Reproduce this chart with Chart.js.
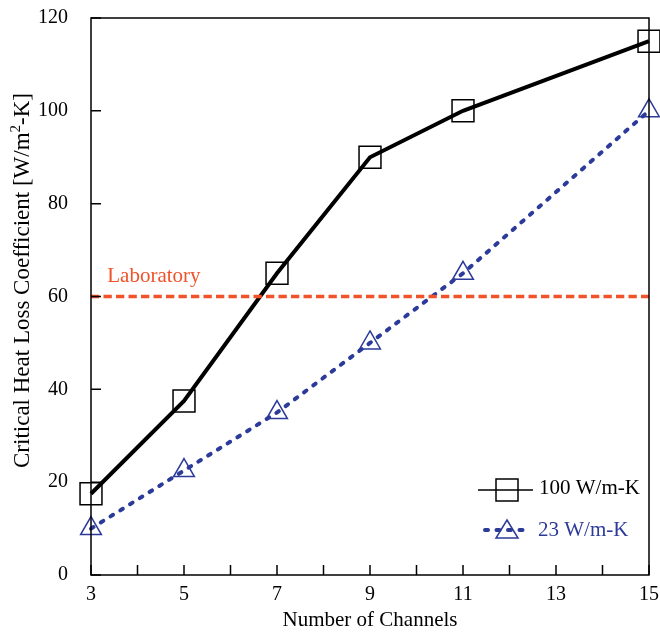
<!DOCTYPE html>
<html>
<head>
<meta charset="utf-8">
<script src="https://cdn.jsdelivr.net/npm/chart.js@4.4.1/dist/chart.umd.min.js"></script>
<style>
  html, body { margin: 0; padding: 0; background: #fff; }
  canvas { display: block; }
</style>
</head>
<body>
<canvas id="chart" width="660" height="639"></canvas>
<script>
// data
const channels = [3, 5, 7, 9, 11, 15];
const hlc100 = [17.5, 37.5, 65, 90, 100, 115];   // 100 W/m-K
const hlc23 = [10, 22.5, 35, 50, 65, 100];       // 23 W/m-K
const labLevel = 60;
const xRange = [3, 15];
const yTicks = [0, 20, 40, 60, 80, 100, 120];

const SERIF = '"Liberation Serif", "Times New Roman", serif';
const BLUE = "#2c3a99";
const ORANGE = "#f0522a";

const toXY = (ys) => channels.map((x, i) => ({ x, y: ys[i] }));

// frame, inward ticks, y title, "Laboratory" label and legend
const decorPlugin = {
  id: "decor",
  afterDatasetsDraw(chart) {
    const { ctx, chartArea: a, scales } = chart;
    const xs = scales.x, ys = scales.y;
    ctx.save();
    ctx.strokeStyle = "#000";
    ctx.lineWidth = 1.5;
    ctx.strokeRect(a.left, a.top, a.right - a.left, a.bottom - a.top);

    ctx.beginPath();
    for (let v = xRange[0]; v <= xRange[1]; v++) {
      const px = xs.getPixelForValue(v);
      ctx.moveTo(px, a.bottom);
      ctx.lineTo(px, a.bottom - 10);
    }
    yTicks.forEach(v => {
      const py = ys.getPixelForValue(v);
      ctx.moveTo(a.left, py);
      ctx.lineTo(a.left + 10, py);
    });
    ctx.stroke();

    // y axis title with superscript
    ctx.save();
    ctx.translate(23, 468);
    ctx.rotate(-Math.PI / 2);
    ctx.fillStyle = "#000";
    ctx.textBaseline = "middle";
    ctx.textAlign = "left";
    const f = "23px " + SERIF, fs = "15px " + SERIF;
    const p1 = "Critical Heat Loss Coefficient [W/m", p2 = "2", p3 = "-K]";
    ctx.font = f;
    let cx = 0;
    ctx.fillText(p1, cx, 0);
    cx += ctx.measureText(p1).width;
    ctx.font = fs;
    ctx.fillText(p2, cx, -7);
    cx += ctx.measureText(p2).width;
    ctx.font = f;
    ctx.fillText(p3, cx, 0);
    ctx.restore();

    // Laboratory label
    ctx.fillStyle = ORANGE;
    ctx.font = "21px " + SERIF;
    ctx.textBaseline = "middle";
    ctx.textAlign = "left";
    ctx.fillText("Laboratory", xs.getPixelForValue(3.35), ys.getPixelForValue(64.3));

    // legend
    ctx.strokeStyle = "#000";
    ctx.lineWidth = 1.5;
    ctx.beginPath();
    ctx.moveTo(478, 490); ctx.lineTo(533, 490);
    ctx.stroke();
    ctx.strokeRect(496, 479, 22, 22);
    ctx.fillStyle = "#000";
    ctx.fillText("100 W/m-K", 539, 488);

    ctx.strokeStyle = BLUE;
    ctx.lineWidth = 4;
    ctx.lineCap = "round";
    ctx.setLineDash([3, 8.5]);
    ctx.beginPath();
    ctx.moveTo(485, 530); ctx.lineTo(529, 530);
    ctx.stroke();
    ctx.setLineDash([]);
    ctx.lineCap = "butt";
    ctx.lineWidth = 1.5;
    ctx.beginPath();
    ctx.moveTo(507, 520); ctx.lineTo(518, 538); ctx.lineTo(496, 538); ctx.closePath();
    ctx.stroke();
    ctx.fillStyle = BLUE;
    ctx.fillText("23 W/m-K", 538, 530);
    ctx.restore();
  }
};

new Chart(document.getElementById("chart"), {
  type: "line",
  data: {
    datasets: [
      {
        label: "Laboratory",
        data: [{ x: xRange[0], y: labLevel }, { x: xRange[1], y: labLevel }],
        borderColor: ORANGE,
        borderWidth: 3.5,
        borderDash: [8.3, 4.2],
        pointRadius: 0,
        clip: false
      },
      {
        label: "23 W/m-K",
        data: toXY(hlc23),
        borderColor: BLUE,
        borderWidth: 4,
        borderDash: [3, 8.5],
        borderCapStyle: "round",
        pointStyle: "triangle",
        pointRadius: 12,
        pointBorderWidth: 1.5,
        pointBackgroundColor: "rgba(255,255,255,0)",
        pointBorderColor: BLUE,
        tension: 0,
        clip: false
      },
      {
        label: "100 W/m-K",
        data: toXY(hlc100),
        borderColor: "#000",
        borderWidth: 4,
        pointStyle: "rect",
        pointRadius: 15.5,
        pointBorderWidth: 1.5,
        pointBackgroundColor: "rgba(255,255,255,0)",
        pointBorderColor: "#000",
        tension: 0,
        clip: false
      }
    ]
  },
  options: {
    responsive: false,
    animation: false,
    layout: { autoPadding: false, padding: { left: 0, right: 11, top: 18, bottom: 0 } },
    plugins: { legend: { display: false }, tooltip: { enabled: false } },
    scales: {
      x: {
        type: "linear",
        min: xRange[0],
        max: xRange[1],
        afterFit: (s) => { s.height = 64; s.paddingLeft = 0; s.paddingRight = 0; },
        grid: { display: false },
        border: { display: false },
        ticks: {
          stepSize: 1,
          padding: 0,
          maxRotation: 0,
          autoSkip: false,
          color: "#000",
          font: { family: SERIF, size: 20 },
          callback: (v) => (v % 2 === 1 ? v : "")
        },
        title: {
          display: true,
          text: "Number of Channels",
          color: "#000",
          font: { family: SERIF, size: 21 },
          padding: { top: 0, bottom: 6 }
        }
      },
      y: {
        min: 0,
        max: 120,
        afterFit: (s) => { s.width = 91; s.paddingTop = 0; s.paddingBottom = 0; },
        grid: { display: false },
        border: { display: false },
        ticks: {
          stepSize: 20,
          padding: 15,
          color: "#000",
          font: { family: SERIF, size: 20 }
        }
      }
    }
  },
  plugins: [decorPlugin]
});
</script>
</body>
</html>
